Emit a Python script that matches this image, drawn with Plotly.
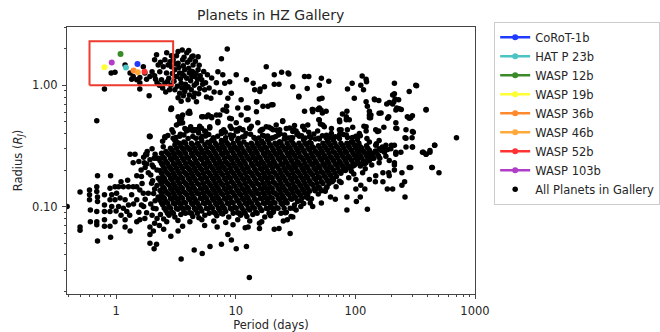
import plotly.graph_objects as go

# ---------------- highlighted planets ----------------
hz_names = ["CoRoT-1b", "HAT P 23b", "WASP 12b", "WASP 19b", "WASP 36b", "WASP 46b", "WASP 52b", "WASP 103b"]
hz_period = [1.51, 1.21, 1.09, 0.80, 1.40, 1.52, 1.73, 0.92]
hz_radius = [1.50, 1.40, 1.81, 1.41, 1.32, 1.28, 1.29, 1.54]
hz_colors = ["#1f3bff", "#4cc4c4", "#3a8a2a", "#ffff33", "#ff8a2e", "#ffa93c", "#ff3333", "#b03cc8"]

# red highlight box (period range, radius range)
box_period = [0.6, 3.0]
box_radius = [1.0, 2.3]

# ---------------- all planets in gallery ----------------
hot_jupiters = [
    (0.80, 0.93), (0.91, 1.26), (0.98, 1.28), (1.19, 1.47), (1.31, 1.26), (1.39, 1.18), (1.35, 1.12),
    (1.49, 1.11), (1.58, 1.16), (1.74, 1.26), (1.69, 1.42), (1.80, 1.12), (1.58, 1.05), (1.92, 1.18),
    (2.0, 1.29), (2.1, 1.62), (2.18, 1.78), (2.25, 1.47), (2.14, 1.12), (2.32, 1.29), (2.4, 1.11),
    (2.48, 1.42), (2.56, 1.62), (2.64, 1.26), (2.56, 1.04), (2.72, 1.47), (2.82, 1.56), (2.76, 1.14),
    (2.87, 1.0), (1.89, 0.82), (1.58, 0.93), (3.57, 1.95), (2.9, 1.42), (3.1, 1.34), (3.3, 1.52),
    (3.2, 1.18), (3.4, 1.26), (3.5, 1.04), (3.6, 1.62), (3.75, 1.34), (3.9, 1.14), (4.0, 0.97),
    (4.3, 1.72), (4.4, 1.47), (4.1, 1.26), (4.55, 1.18), (4.7, 1.04), (4.85, 1.34), (5.2, 1.11),
    (5.0, 0.94), (3.75, 0.89), (4.1, 0.83), (4.55, 0.86), (4.0, 0.76), (4.7, 0.73), (5.5, 0.92),
    (2.8, 0.92), (3.1, 0.92), (3.4, 0.86), (4.4, 1.74), (4.85, 1.72), (3.0, 1.62), (3.2, 1.75),
    (3.35, 1.40), (3.45, 1.13), (3.65, 1.45), (3.7, 1.20), (3.8, 1.02), (3.95, 1.55), (4.05, 1.38),
    (4.2, 1.09), (4.25, 0.92), (4.35, 1.30), (4.5, 1.00), (4.6, 1.58), (4.65, 1.25), (4.8, 1.12),
    (4.95, 1.46), (5.05, 1.20), (5.3, 1.02), (5.4, 1.30), (3.05, 1.08), (3.25, 0.98), (3.55, 0.95),
    (3.65, 0.82), (3.85, 0.95), (4.15, 1.62), (3.9, 1.85), (4.05, 1.93), (3.3, 1.9), (2.95, 1.25),
    (3.15, 1.50), (3.55, 1.25), (3.7, 1.70), (4.3, 1.18), (4.45, 0.80), (4.9, 0.85), (5.6, 1.05),
    (5.8, 1.22), (6.0, 0.95), (6.3, 1.15), (6.6, 0.88), (5.7, 0.80), (3.3, 0.79), (3.5, 0.74),
    (2.6, 0.88), (2.45, 0.95), (2.3, 1.0), (2.2, 1.05), (2.1, 1.2), (2.7, 1.08), (2.35, 1.55),
    (2.9, 1.75), (2.65, 1.85), (8.5, 1.99), (7.6, 1.65), (7.1, 1.29), (7.8, 1.22), (8.9, 1.07),
    (10.1, 1.22), (8.1, 1.04), (9.2, 0.86), (8.6, 0.78), (8.4, 0.67), (10.4, 0.65), (11.1, 0.76),
    (12.3, 0.65), (15.0, 0.73), (14.0, 1.04), (18.0, 1.42), (19.9, 0.69), (17.4, 0.97), (14.4, 0.92),
    (12.3, 1.11), (7.4, 0.87), (6.9, 1.05), (6.2, 0.78),
]

giants = [
    (21, 1.22), (24.2, 1.28), (27.4, 1.26), (21, 1.02), (23, 1.02), (30, 0.97), (37.6, 1.18), (40.8, 1.18),
    (52, 1.14), (60, 1.08), (50, 1.0), (39.6, 0.94), (33.7, 0.81), (50, 0.77), (52.6, 0.78), (37.6, 0.61),
    (44, 0.63), (50, 0.65), (53, 0.59), (57, 0.61), (49.5, 0.52), (51, 0.48), (20.5, 0.69), (24.7, 0.51),
    (21.8, 0.47), (30.5, 0.43), (32, 0.42), (36.4, 0.46), (40.8, 0.41), (23.3, 0.43), (86, 0.93),
    (94, 1.04), (114, 1.19), (123, 1.12), (124, 1.07), (111, 1.0), (117, 0.92), (98, 0.78), (123, 0.73),
    (144, 0.77), (157, 0.75), (126, 0.67), (131, 0.61), (135, 0.57), (131, 0.54), (192, 0.72), (210, 0.73),
    (230, 0.76), (222, 0.65), (242, 0.63), (212, 1.04), (212, 0.85), (282, 0.89), (320, 1.0), (390, 0.63),
    (190, 0.55), (218, 0.49), (222, 0.44), (290, 0.54), (300, 0.56), (305, 0.41), (260, 0.37), (173, 0.45),
    (148, 0.43), (157, 0.42), (118, 0.46), (123, 0.42), (85, 0.61), (78, 0.58), (84, 0.52), (74, 0.50),
    (76, 0.43), (101, 0.38), (84, 0.39), (57, 0.37), (700, 0.37), (460, 0.32), (364, 0.28), (390, 0.27),
    (420, 0.29), (300, 0.31), (282, 0.21), (440, 0.21), (200, 0.32), (212, 0.32), (218, 0.28), (158, 0.35),
    (175, 0.29), (16, 0.93), (15.9, 0.89), (14.9, 0.73), (16.9, 0.67), (18.6, 0.67), (12.7, 0.65),
    (43.6, 0.63), (48.5, 0.63), (89, 0.52), (134, 0.54), (164, 0.59), (272, 0.55), (265, 0.43),
    (298, 0.37), (145, 0.76), (205, 0.83), (215, 0.77), (183, 0.70), (205, 0.70), (233, 0.64), (325, 0.99),
    (33.7, 0.80), (27.8, 1.24), (22.7, 0.39), (29, 0.37), (34, 0.38), (42.5, 0.37), (50, 0.36),
    (20.5, 0.37), (25.5, 0.36),
]

transition = [
    (2.9, 0.65), (3.6, 0.49), (3.4, 0.52), (4.1, 0.61), (5.2, 0.55), (5.9, 0.57), (6.3, 0.54), (7.1, 0.49),
    (4.1, 0.43), (4.55, 0.43), (4.85, 0.43), (3.9, 0.43), (3.4, 0.38), (5.5, 0.42), (7.6, 0.40), (9.2, 0.44),
    (10.1, 0.42), (11.5, 0.43), (7.6, 0.35), (1.92, 0.38), (2.56, 0.37), (3.1, 0.35), (2.87, 0.63),
    (12.7, 0.52), (13.5, 0.46), (15.3, 0.49), (16.4, 0.43), (17.5, 0.38), (19.8, 0.44), (11.9, 0.38),
    (10.1, 0.49), (9.2, 0.53), (11.1, 0.57), (3.3, 0.55), (3.6, 0.57), (4.0, 0.59), (3.2, 0.47),
    (3.5, 0.49), (4.4, 0.42), (5.0, 0.46), (5.7, 0.55), (6.3, 0.35), (6.9, 0.57), (8.4, 0.61), (5.3, 0.38),
    (0.69, 0.51), (1.9, 0.38),
    (2.91, 0.64), (3.53, 0.535), (4.14, 0.588), (3.37, 0.486), (3.88, 0.42), (4.41, 0.43), (5.18, 0.443),
    (6.07, 0.456), (5.33, 0.551), (6.27, 0.551), (7.36, 0.569), (7.83, 0.626), (7.1, 0.502), (8.9, 0.535),
    (10.1, 0.43), (10.8, 0.443), (12.3, 0.518), (14.9, 0.606), (13.1, 0.443), (18.0, 0.456), (20.5, 0.43),
    (24.7, 0.502), (30.0, 0.415), (36.4, 0.456), (44.0, 0.606), (51.7, 0.626), (50.0, 0.518), (53.4, 0.47),
    (73.6, 0.518), (84.0, 0.551), (73.6, 0.43), (123, 0.456), (131, 0.569), (158, 0.588), (186, 0.535),
    (218, 0.626), (282, 0.535), (300, 0.415), (265, 0.366), (218, 0.443), (390, 0.626), (153, 0.415),
    (1.92, 0.377), (2.56, 0.377), (3.0, 0.366), (1.8, 0.267), (2.18, 0.25), (2.48, 0.312), (3.2, 0.343),
    (4.75, 0.43), (5.6, 0.415), (8.2, 0.41), (16.0, 0.42), (26.5, 0.44), (33.0, 0.40), (40.0, 0.47),
    (63.0, 0.40), (95.0, 0.45), (108, 0.40),
]

short_period = [
    (0.39, 0.10), (0.50, 0.132), (0.50, 0.068), (0.50, 0.064), (0.60, 0.137), (0.60, 0.125), (0.60, 0.114),
    (0.61, 0.094), (0.61, 0.075), (0.70, 0.18), (0.69, 0.146), (0.69, 0.133), (0.70, 0.12), (0.70, 0.11),
    (0.69, 0.091), (0.69, 0.075), (0.69, 0.071), (0.70, 0.052), (0.80, 0.125), (0.80, 0.103), (0.80, 0.091),
    (0.80, 0.078), (0.80, 0.069), (0.90, 0.18), (0.89, 0.142), (0.92, 0.125), (0.89, 0.114), (0.92, 0.10),
    (0.89, 0.091), (0.98, 0.075), (0.89, 0.069), (0.90, 0.056), (0.98, 0.146), (1.05, 0.146), (1.15, 0.146),
    (1.27, 0.146), (1.39, 0.146), (1.01, 0.129), (1.08, 0.118), (0.98, 0.114), (1.19, 0.114), (1.05, 0.10),
    (1.15, 0.097), (1.27, 0.103), (1.23, 0.091), (1.19, 0.078), (1.19, 0.068), (1.31, 0.063), (1.49, 0.075),
    (1.58, 0.078), (1.74, 0.080), (1.92, 0.068), (2.1, 0.073), (2.05, 0.063), (1.92, 0.05), (2.08, 0.045),
    (1.31, 0.27), (1.39, 0.23), (1.55, 0.235), (1.77, 0.27), (1.49, 0.18), (1.63, 0.177), (1.49, 0.146),
    (1.58, 0.137), (1.69, 0.129), (1.49, 0.114), (1.63, 0.103), (1.86, 0.19), (1.98, 0.156), (1.86, 0.129),
    (2.05, 0.097), (1.80, 0.089), (2.87, 0.057), (3.3, 0.063), (3.5, 0.037), (4.5, 0.044), (5.25, 0.041),
    (6.1, 0.047), (7.6, 0.049), (10.1, 0.045), (12.3, 0.047), (13.0, 0.026), (8.6, 0.059), (9.2, 0.053),
    (15.8, 0.066), (15.8, 0.073), (12.7, 0.068), (1.92, 0.059), (2.18, 0.049), (1.44, 0.27), (1.8, 0.27),
    (1.72, 0.23), (2.08, 0.25), (1.1, 0.16), (1.25, 0.165), (1.35, 0.125), (1.4, 0.105), (1.3, 0.085),
    (1.1, 0.085), (1.0, 0.092), (1.7, 0.10), (1.55, 0.09), (1.65, 0.155), (1.75, 0.115), (1.95, 0.105),
    (2.0, 0.085), (2.2, 0.08), (2.3, 0.07), (2.5, 0.065), (2.65, 0.075), (2.4, 0.16), (2.2, 0.2),
    (2.0, 0.22), (1.75, 0.21), (2.1, 0.14), (2.25, 0.12),
]

long_period_small = [
    (460, 0.32), (300, 0.31), (370, 0.28), (390, 0.27), (420, 0.28), (435, 0.21), (500, 0.19), (290, 0.21),
    (245, 0.19), (258, 0.16), (245, 0.15), (260, 0.12), (212, 0.22), (190, 0.19), (192, 0.18), (185, 0.14),
    (205, 0.14), (147, 0.16), (170, 0.16), (126, 0.095), (85, 0.094), (102, 0.11), (110, 0.12), (85, 0.12),
    (120, 0.14), (101, 0.14), (111, 0.15), (62, 0.12), (68, 0.115), (52, 0.107), (44, 0.10), (39, 0.12),
    (42, 0.107), (35, 0.10), (31, 0.103), (32, 0.094), (29, 0.083), (27, 0.078), (25, 0.076), (21, 0.065),
    (23, 0.066), (28.5, 0.06), (30, 0.082), (26, 0.089), (20.5, 0.09), (131, 0.34), (148, 0.32), (158, 0.30),
    (175, 0.28), (180, 0.26), (192, 0.24), (218, 0.27), (212, 0.23), (131, 0.28), (139, 0.25), (123, 0.23),
    (158, 0.23), (115, 0.29), (108, 0.26), (101, 0.31), (95, 0.34), (180, 0.32), (198, 0.30), (240, 0.28),
    (265, 0.31), (212, 0.20), (170, 0.19), (148, 0.18), (131, 0.167), (115, 0.19), (101, 0.167),
]

# ragged edge of the dense core
core_fringe = [
    (150, 0.33), (168, 0.31), (186, 0.295), (160, 0.25), (137, 0.22), (121, 0.205), (97, 0.186), (88, 0.173),
    (76, 0.158), (69, 0.146), (56, 0.134), (49, 0.127), (43, 0.116), (37, 0.106), (30.5, 0.097), (26.5, 0.09),
    (2.0, 0.30), (2.12, 0.27), (1.92, 0.243), (2.05, 0.212), (1.95, 0.182), (2.02, 0.163), (2.06, 0.128),
    (2.12, 0.112), (2.16, 0.096), (2.35, 0.086), (2.5, 0.079), (2.45, 0.345), (1.82, 0.285),
    (1.7, 0.255), (1.8, 0.225), (1.62, 0.2), (80, 0.2), (95, 0.215), (115, 0.225), (58, 0.145), (64, 0.16),
    (46, 0.135), (40, 0.125), (35, 0.112), (104, 0.244), (128, 0.262), (142, 0.275),
]

# dense core of the distribution, read row by row (period, radius)
core_a = [(2.71, .385), (3.0, .41), (3.16, .372), (3.45, .395), (3.69, .39), (4.0, .365), (4.38, .378),
          (4.9, .405), (5.11, .368), (5.6, .382), (5.95, .392), (6.5, .37), (7.07, .38), (7.6, .415),
          (8.25, .37), (9.0, .39), (9.6, .386), (10.5, .365), (11.4, .375), (12.2, .40), (13.3, .395),
          (14.2, .372), (15.6, .368), (16.8, .388), (18.5, .382), (19.8, .366), (21.5, .377), (23.5, .398),
          (25.6, .39), (27.5, .368), (29.9, .37), (32.5, .392), (35.5, .384), (38, .367), (41.4, .379),
          (45, .397), (49.2, .366), (53, .384), (57.4, .388), (62, .37), (68.1, .376), (74, .395), (79.4, .392),
          (86, .372), (94.4, .371), (110, .383), (125, .365),
          (2.93, .43), (3.76, .44), (4.73, .425), (6.07, .445), (7.94, .43), (10.4, .42), (13.1, .44),
          (16.8, .435), (22.0, .425), (28.2, .445), (37.6, .43), (48.4, .42), (63.1, .44), (85.8, .43),
          (4.2, .455), (9.0, .46), (19, .45), (31, .465), (55, .455)]
core_b = [(3.69, .341), (4.64, .366), (5.21, .348), (5.84, .339), (6.56, .358),
          (8.25, .345), (9.26, .364), (10.4, .35), (11.7, .34), (14.7, .361), (16.5, .347), (18.5, .356),
          (23.3, .343), (26.1, .367), (29.3, .349), (36.9, .355), (41.4, .338), (46.4, .36), (58.5, .346),
          (65.6, .353), (73.6, .365), (92.7, .342), (104, .357)]
core_c = [(3.10, .322), (3.48, .315), (3.91, .31), (4.38, .32), (4.92, .316),
          (5.52, .324), (6.19, .312), (6.95, .319), (7.79, .315), (8.74, .321), (9.81, .311), (11.0, .317),
          (12.4, .323), (13.9, .314), (15.6, .319), (17.5, .31), (19.6, .318), (22.0, .322), (24.6, .315),
          (27.7, .313), (31.0, .32), (34.8, .316), (39.1, .324), (43.8, .312), (49.2, .318), (55.2, .315),
          (61.9, .321), (69.5, .313), (78.0, .319), (87.5, .316), (98.2, .322), (110, .311), (124, .318)]
core_d = [(2.61, .285), (2.93, .292), (3.29, .283), (3.69, .288), (4.14, .294), (4.64, .286),
          (5.21, .29), (5.84, .282), (6.56, .289), (7.36, .293), (8.25, .285), (9.26, .288), (10.4, .291),
          (11.7, .284), (13.1, .29), (14.7, .287), (16.5, .293), (18.5, .283), (20.7, .289), (23.3, .286),
          (26.1, .292), (29.3, .284), (32.9, .29), (36.9, .288), (41.4, .294), (46.4, .285), (52.1, .287),
          (58.5, .291), (65.6, .283), (73.6, .29), (82.6, .286), (92.7, .292), (104, .288), (117, .284),
          (131, .291), (147, .287), (165, .29)]
core_e = [(2.46, .258), (2.77, .266), (3.10, .26), (3.48, .264), (3.91, .257), (4.38, .262),
          (4.92, .267), (5.52, .259), (6.19, .263), (6.95, .261), (7.79, .266), (8.74, .258), (9.81, .262),
          (11.0, .265), (12.4, .26), (13.9, .263), (15.6, .257), (17.5, .264), (19.6, .261), (22.0, .266),
          (24.6, .259), (27.7, .262), (31.0, .265), (34.8, .258), (39.1, .263), (43.8, .26), (49.2, .266),
          (55.2, .261), (61.9, .257), (69.5, .264), (78.0, .262), (87.5, .259), (98.2, .265), (110, .261),
          (124, .263), (139, .258), (156, .262)]
core_f = [(2.33, .239), (2.61, .235), (2.93, .242), (3.29, .236), (3.69, .24), (4.14, .233), (4.64, .238),
          (5.21, .243), (5.84, .236), (6.56, .24), (7.36, .237), (8.25, .234), (9.26, .241), (10.4, .238),
          (11.7, .236), (13.1, .242), (14.7, .239), (16.5, .235), (18.5, .24), (20.7, .237), (23.3, .243),
          (26.1, .236), (29.3, .239), (32.9, .234), (36.9, .241), (41.4, .238), (46.4, .236), (52.1, .242),
          (58.5, .237), (65.6, .24), (73.6, .235), (82.6, .239), (92.7, .241), (104, .236), (117, .238),
          (131, .24)]
core_g = [(2.46, .218), (2.77, .214), (3.10, .22), (3.48, .216), (3.91, .213), (4.38, .219), (4.92, .217),
          (5.52, .221), (6.19, .215), (6.95, .218), (7.79, .214), (8.74, .22), (9.81, .216), (11.0, .219),
          (12.4, .213), (13.9, .217), (15.6, .221), (17.5, .215), (19.6, .218), (22.0, .216), (24.6, .22),
          (27.7, .214), (31.0, .217), (34.8, .219), (39.1, .215), (43.8, .221), (49.2, .216), (55.2, .218),
          (61.9, .213), (69.5, .22), (78.0, .217), (87.5, .215), (98.2, .219), (110, .216)]
core_h = [(2.33, .198), (2.61, .195), (2.93, .2), (3.29, .196), (3.69, .193), (4.14, .199), (4.64, .197),
          (5.21, .201), (5.84, .194), (6.56, .198), (7.36, .196), (8.25, .2), (9.26, .195), (10.4, .197),
          (11.7, .199), (13.1, .194), (14.7, .198), (16.5, .201), (18.5, .196), (20.7, .193), (23.3, .199),
          (26.1, .197), (29.3, .2), (32.9, .195), (36.9, .198), (41.4, .196), (46.4, .201), (52.1, .194),
          (58.5, .197), (65.6, .199), (73.6, .195), (82.6, .198), (92.7, .196)]
core_i = [(2.46, .177), (2.77, .182), (3.10, .178), (3.48, .175), (3.91, .181), (4.38, .179),
          (4.92, .183), (5.52, .176), (6.19, .18), (6.95, .178), (7.79, .182), (8.74, .177), (9.81, .179),
          (11.0, .181), (12.4, .176), (13.9, .18), (15.6, .183), (17.5, .178), (19.6, .175), (22.0, .181),
          (24.6, .179), (27.7, .182), (31.0, .177), (34.8, .18), (39.1, .178), (43.8, .183), (49.2, .176),
          (55.2, .179), (61.9, .181), (69.5, .177)]
core_j = [(2.33, .164), (2.61, .161), (2.93, .166), (3.29, .162), (3.69, .16), (4.14, .165), (4.64, .163),
          (5.21, .167), (5.84, .161), (6.56, .164), (7.36, .162), (8.25, .166), (9.26, .16), (10.4, .163),
          (11.7, .165), (13.1, .161), (14.7, .164), (16.5, .167), (18.5, .162), (20.7, .159), (23.3, .165),
          (26.1, .163), (29.3, .166), (32.9, .161), (36.9, .164), (41.4, .162), (46.4, .167), (52.1, .16),
          (58.5, .163), (65.6, .165), (73.6, .162)]
core_k = [(2.20, .149), (2.46, .146), (2.77, .151), (3.10, .147), (3.48, .145), (3.91, .15), (4.38, .148),
          (4.92, .152), (5.52, .146), (6.19, .149), (6.95, .147), (7.79, .151), (8.74, .145), (9.81, .148),
          (11.0, .15), (12.4, .146), (13.9, .149), (15.6, .152), (17.5, .147), (19.6, .144), (22.0, .15),
          (24.6, .148), (27.7, .151), (31.0, .146), (34.8, .149), (39.1, .147), (43.8, .152), (49.2, .145)]
core_l = [(2.33, .136), (2.61, .133), (2.93, .138), (3.29, .134), (3.69, .132), (4.14, .137), (4.64, .135),
          (5.21, .139), (5.84, .133), (6.56, .136), (7.36, .134), (8.25, .138), (9.26, .132), (10.4, .135),
          (11.7, .137), (13.1, .133), (14.7, .136), (16.5, .139), (18.5, .134), (20.7, .131), (23.3, .137),
          (26.1, .135), (29.3, .138), (32.9, .133), (36.9, .136), (41.4, .134), (46.4, .139), (52.1, .135)]
core_m = [(2.46, .121), (2.77, .126), (3.10, .122), (3.48, .12), (3.91, .125), (4.38, .123),
          (4.92, .127), (5.52, .121), (6.19, .124), (6.95, .122), (7.79, .126), (8.74, .12), (9.81, .123),
          (11.0, .125), (12.4, .121), (13.9, .124), (15.6, .127), (17.5, .122), (19.6, .119), (22.0, .125),
          (24.6, .123), (27.7, .126), (31.0, .121), (34.8, .124)]
core_n = [(2.33, .113), (2.61, .11), (2.93, .115), (3.29, .111), (3.69, .109), (4.14, .114), (4.64, .112),
          (5.21, .116), (5.84, .11), (6.56, .113), (7.36, .111), (8.25, .115), (9.26, .109), (10.4, .112),
          (11.7, .114), (13.1, .11), (14.7, .113), (16.5, .116), (18.5, .111), (20.7, .108), (23.3, .114),
          (26.1, .112), (29.3, .115), (32.9, .11)]
core_o = [(2.46, .103), (2.77, .1), (3.10, .105), (3.48, .101), (3.91, .099), (4.38, .104), (4.92, .102),
          (5.52, .106), (6.19, .1), (6.95, .103), (7.79, .101), (8.74, .105), (9.81, .099), (11.0, .102),
          (12.4, .104), (13.9, .1), (15.6, .103), (17.5, .106), (19.6, .101), (22.0, .098), (24.6, .104)]
core_p = [(2.61, .093), (2.93, .09), (3.29, .095), (3.69, .091), (4.14, .089), (4.64, .094), (5.21, .092),
          (5.84, .096), (6.56, .09), (7.36, .093), (8.25, .091), (9.26, .095), (10.4, .089), (11.7, .092),
          (13.1, .094), (14.7, .09), (16.5, .093), (18.5, .096), (20.7, .091)]
core_q = [(2.77, .085), (3.10, .082), (3.48, .086), (4.38, .083), (4.92, .081), (5.52, .085), (6.95, .084),
          (7.79, .087), (8.74, .082), (11.0, .085), (12.4, .083), (13.9, .086), (17.5, .082), (19.6, .084)]
core_r = [(3.29, .077), (4.14, .075), (5.21, .078), (6.56, .076), (8.25, .074), (10.4, .078), (13.1, .076),
          (16.5, .075)]
core_s = [(3.6, .069), (5.5, .07), (7.0, .068), (9.5, .071), (12.0, .067)]

# in-between rows of the solid core: (radius, periods along that row)
core_mid = [
    (0.333, [3.38, 3.80, 4.26, 4.78, 6.01, 6.75, 7.57, 8.49, 9.53, 10.7, 13.5, 15.1, 17.0, 19.0, 21.3,
             23.9, 26.9, 30.1, 33.8, 37.9, 42.6, 53.6, 60.2, 67.5, 75.7, 85.0, 95.4, 107]),
    (0.302, [2.85, 3.19, 3.58, 4.02, 4.51, 5.06, 5.68, 6.37, 7.15, 8.02, 9.00, 10.1, 11.3, 12.7, 14.3,
             16.0, 18.0, 20.2, 22.6, 25.4, 28.5, 31.9, 35.8, 40.2, 45.1, 50.6, 56.8, 63.7, 71.5, 80.2, 90.0,
             101, 113, 127]),
    (0.275, [2.40, 2.69, 3.01, 3.38, 3.80, 4.26, 4.78, 5.36, 6.01, 6.75, 7.57, 8.49, 9.53, 10.7, 12.0, 13.5,
             15.1, 17.0, 19.0, 21.3, 23.9, 26.9, 30.1, 33.8, 37.9, 42.6, 47.8, 53.6, 60.2, 67.5, 75.7, 85.0,
             95.4, 107, 120, 135, 151]),
    (0.250, [2.26, 2.53, 2.85, 3.19, 3.58, 4.02, 4.51, 5.06, 5.68, 6.37, 7.15, 8.02, 9.00, 10.1, 11.3, 12.7,
             14.3, 16.0, 18.0, 20.2, 22.6, 25.4, 28.5, 31.9, 35.8, 40.2, 45.1, 50.6, 56.8, 63.7, 71.5, 80.2,
             90.0, 101, 113, 127, 143]),
    (0.227, [2.40, 2.69, 3.01, 3.38, 3.80, 4.26, 4.78, 5.36, 6.01, 6.75, 7.57, 8.49, 9.53, 10.7, 12.0, 13.5,
             15.1, 17.0, 19.0, 21.3, 23.9, 26.9, 30.1, 33.8, 37.9, 42.6, 47.8, 53.6, 60.2, 67.5, 75.7, 85.0,
             95.4, 107, 120]),
    (0.207, [2.53, 2.85, 3.19, 3.58, 4.02, 4.51, 5.06, 5.68, 6.37, 7.15, 8.02, 9.00, 10.1, 11.3, 12.7, 14.3,
             16.0, 18.0, 20.2, 22.6, 25.4, 28.5, 31.9, 35.8, 40.2, 45.1, 50.6, 56.8, 63.7, 71.5, 80.2, 90.0]),
    (0.188, [2.40, 2.69, 3.01, 3.38, 3.80, 4.26, 4.78, 5.36, 6.01, 6.75, 7.57, 8.49, 9.53, 10.7, 12.0, 13.5,
             15.1, 17.0, 19.0, 21.3, 23.9, 26.9, 30.1, 33.8, 37.9, 42.6, 47.8, 53.6, 60.2, 67.5, 75.7]),
    (0.171, [2.26, 2.53, 2.85, 3.19, 3.58, 4.02, 4.51, 5.06, 5.68, 6.37, 7.15, 8.02, 9.00, 10.1, 11.3, 12.7,
             14.3, 16.0, 18.0, 20.2, 22.6, 25.4, 28.5, 31.9, 35.8, 40.2, 45.1, 50.6, 56.8, 63.7]),
    (0.155, [2.40, 2.69, 3.01, 3.38, 3.80, 4.26, 4.78, 5.36, 6.01, 6.75, 7.57, 8.49, 9.53, 10.7, 12.0, 13.5,
             15.1, 17.0, 19.0, 21.3, 23.9, 26.9, 30.1, 33.8, 37.9, 42.6, 47.8, 53.6, 60.2]),
    (0.141, [2.53, 2.85, 3.19, 3.58, 4.02, 4.51, 5.06, 5.68, 6.37, 7.15, 8.02, 9.00, 10.1, 11.3, 12.7,
             14.3, 16.0, 18.0, 20.2, 22.6, 25.4, 28.5, 31.9, 35.8, 40.2, 45.1, 50.6, 56.8]),
    (0.129, [2.40, 2.69, 3.01, 3.38, 3.80, 4.26, 4.78, 5.36, 6.01, 6.75, 7.57, 8.49, 9.53, 10.7, 12.0, 13.5,
             15.1, 17.0, 19.0, 21.3, 23.9, 26.9, 30.1, 33.8, 37.9]),
    (0.117, [2.26, 2.53, 2.85, 3.19, 3.58, 4.02, 4.51, 5.06, 5.68, 6.37, 7.15, 8.02, 9.00, 10.1, 11.3, 12.7,
             14.3, 16.0, 18.0, 20.2, 22.6, 25.4, 28.5, 31.9, 35.8, 40.2]),
    (0.107, [2.40, 2.69, 3.01, 3.38, 3.80, 4.26, 4.78, 5.36, 6.01, 6.75, 7.57, 8.49, 9.53, 10.7, 12.0, 13.5,
             15.1, 17.0, 19.0, 21.3, 23.9, 26.9]),
    (0.097, [2.53, 2.85, 3.19, 3.58, 4.02, 4.51, 5.06, 5.68, 6.37, 7.15, 8.02, 9.00, 10.1, 11.3, 12.7, 14.3,
             16.0, 18.0, 20.2, 22.6, 25.4, 28.5]),
    (0.088, [2.69, 3.01, 3.80, 4.26, 4.78, 6.01, 6.75, 7.57, 9.53, 10.7, 12.0, 15.1, 19.0, 23.9]),
]

groups = [core_a, core_b, core_c, core_d, core_e, core_f, core_g, core_h, core_i, core_j, core_k,
          core_l, core_m, core_n, core_o, core_p, core_q, core_r, core_s, core_fringe,
          transition, short_period, long_period_small, giants, hot_jupiters]
all_period = [p for g in groups for p, r in g] + [p for r, ps in core_mid for p in ps]
all_radius = [r for g in groups for p, r in g] + [r for r, ps in core_mid for p in ps]

FONT = "DejaVu Sans"
TXT = "#262626"
fig = go.Figure()

fig.add_trace(go.Scatter(
    x=all_period, y=all_radius, mode="markers", name="All Planets in Gallery",
    marker=dict(color="black", size=5.5, line=dict(width=0)), legendrank=9,
))

for i, (n, p, r, c) in enumerate(zip(hz_names, hz_period, hz_radius, hz_colors)):
    fig.add_trace(go.Scatter(
        x=[p], y=[r], mode="lines+markers", name=n,
        line=dict(color=c, width=2.5), marker=dict(color=c, size=6), legendrank=i + 1,
    ))

fig.add_trace(go.Scatter(
    x=[box_period[0], box_period[1], box_period[1], box_period[0], box_period[0]],
    y=[box_radius[0], box_radius[0], box_radius[1], box_radius[1], box_radius[0]],
    mode="lines", line=dict(color="#ee3b30", width=2), showlegend=False, hoverinfo="skip",
))

x_minor = [0.4, 0.5, 0.6, 0.7, 0.8, 0.9, 2, 3, 4, 5, 6, 7, 8, 9, 20, 30, 40, 50, 60, 70, 80, 90,
           200, 300, 400, 500, 600, 700, 800, 900]
y_minor = [0.02, 0.03, 0.04, 0.05, 0.06, 0.07, 0.08, 0.09, 0.2, 0.3, 0.4, 0.5, 0.6, 0.7, 0.8, 0.9, 2, 3]

axis_common = dict(
    type="log", showgrid=False, zeroline=False, showline=True, mirror=True,
    linecolor="#444444", linewidth=1, ticks="outside", ticklen=4, tickwidth=1, tickcolor="#444444",
    tickfont=dict(family=FONT, size=11.5, color=TXT),
)

fig.update_layout(
    width=660, height=332,
    margin=dict(l=67, r=185, t=27, b=38, autoexpand=False),
    paper_bgcolor="white", plot_bgcolor="white",
    font=dict(family=FONT, size=11.5, color=TXT),
    title=dict(text="Planets in HZ Gallery", x=0.41, xanchor="center", y=0.955, yanchor="middle",
               font=dict(family=FONT, size=14, color=TXT)),
    xaxis=dict(**axis_common, range=[-0.41, 3.0], tickvals=[1, 10, 100, 1000],
               ticktext=["1", "10", "100", "1000"], ticklabelstandoff=2,
               minor=dict(tickvals=x_minor, ticks="outside", ticklen=2, tickcolor="#444444", showgrid=False),
               title=dict(text="Period (days)", font=dict(family=FONT, size=11.5), standoff=4)),
    yaxis=dict(**axis_common, range=[-1.72, 0.48], tickvals=[0.1, 1.0], ticktext=["0.10", "1.00"],
               ticklabelstandoff=2,
               minor=dict(tickvals=y_minor, ticks="outside", ticklen=2, tickcolor="#444444", showgrid=False),
               title=dict(text="Radius (<i>R<sub>J</sub></i>)", font=dict(family=FONT, size=11.5), standoff=7)),
    legend=dict(x=1.047, y=1.02, xanchor="left", yanchor="top", bordercolor="#cccccc", borderwidth=1,
                bgcolor="white", font=dict(family=FONT, size=11.5, color=TXT), itemwidth=30,
                maxheight=320),
    showlegend=True,
)

fig.write_html("out.html")
